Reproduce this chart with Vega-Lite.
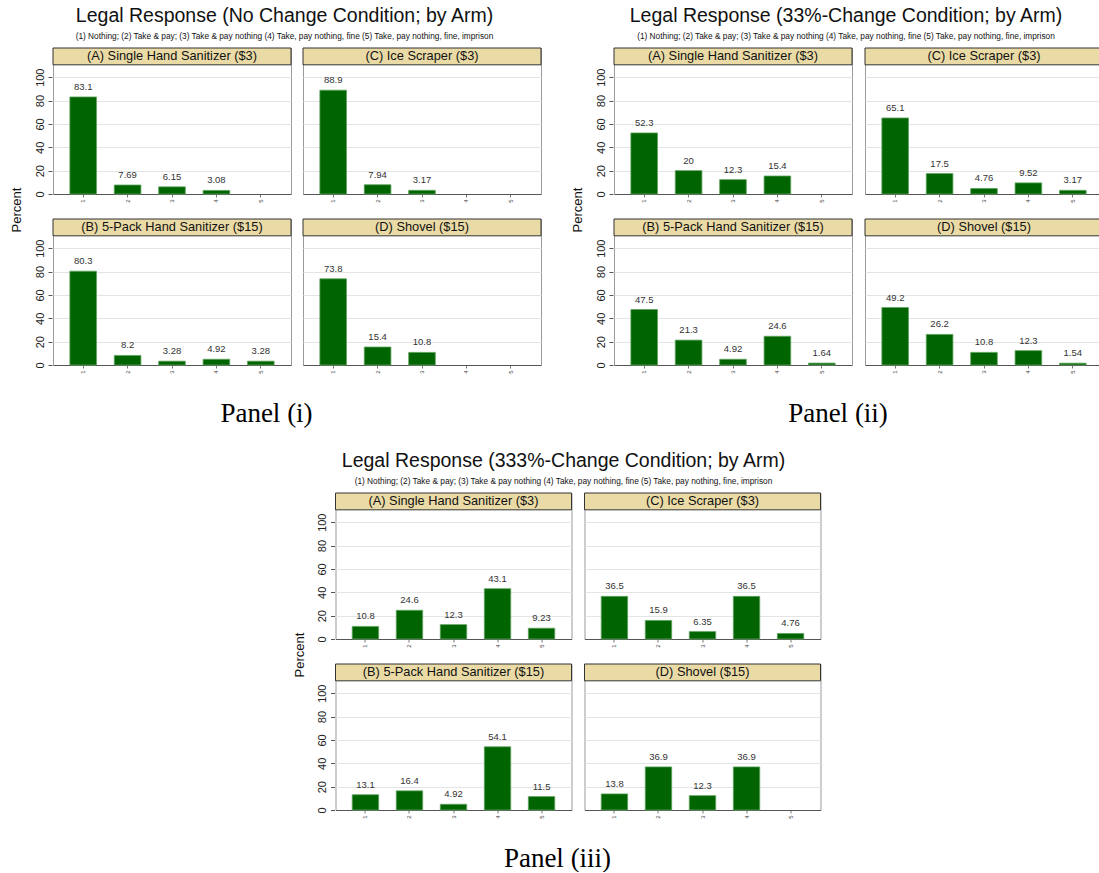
{
  "$schema": "https://vega.github.io/schema/vega-lite/v6.json",
  "padding": {"left": 10, "top": 6, "right": 0, "bottom": 0},
  "background": "white",
  "datasets": {
    "arms": [
      {"a": "A", "arm": "(A) Single Hand Sanitizer ($3)", "rw": "top", "cl": "left"},
      {"a": "C", "arm": "(C) Ice Scraper ($3)", "rw": "top", "cl": "right"},
      {"a": "B", "arm": "(B) 5-Pack Hand Sanitizer ($15)", "rw": "bottom", "cl": "left"},
      {"a": "D", "arm": "(D) Shovel ($15)", "rw": "bottom", "cl": "right"}
    ],
    "d": [
      {"p": "i", "a": "A", "k": "1", "v": 83.1}, {"p": "i", "a": "A", "k": "2", "v": 7.69}, {"p": "i", "a": "A", "k": "3", "v": 6.15}, {"p": "i", "a": "A", "k": "4", "v": 3.08}, {"p": "i", "a": "A", "k": "5", "v": 0},
      {"p": "i", "a": "C", "k": "1", "v": 88.9}, {"p": "i", "a": "C", "k": "2", "v": 7.94}, {"p": "i", "a": "C", "k": "3", "v": 3.17}, {"p": "i", "a": "C", "k": "4", "v": 0}, {"p": "i", "a": "C", "k": "5", "v": 0},
      {"p": "i", "a": "B", "k": "1", "v": 80.3}, {"p": "i", "a": "B", "k": "2", "v": 8.2}, {"p": "i", "a": "B", "k": "3", "v": 3.28}, {"p": "i", "a": "B", "k": "4", "v": 4.92}, {"p": "i", "a": "B", "k": "5", "v": 3.28},
      {"p": "i", "a": "D", "k": "1", "v": 73.8}, {"p": "i", "a": "D", "k": "2", "v": 15.4}, {"p": "i", "a": "D", "k": "3", "v": 10.8}, {"p": "i", "a": "D", "k": "4", "v": 0}, {"p": "i", "a": "D", "k": "5", "v": 0},
      {"p": "ii", "a": "A", "k": "1", "v": 52.3}, {"p": "ii", "a": "A", "k": "2", "v": 20}, {"p": "ii", "a": "A", "k": "3", "v": 12.3}, {"p": "ii", "a": "A", "k": "4", "v": 15.4}, {"p": "ii", "a": "A", "k": "5", "v": 0},
      {"p": "ii", "a": "C", "k": "1", "v": 65.1}, {"p": "ii", "a": "C", "k": "2", "v": 17.5}, {"p": "ii", "a": "C", "k": "3", "v": 4.76}, {"p": "ii", "a": "C", "k": "4", "v": 9.52}, {"p": "ii", "a": "C", "k": "5", "v": 3.17},
      {"p": "ii", "a": "B", "k": "1", "v": 47.5}, {"p": "ii", "a": "B", "k": "2", "v": 21.3}, {"p": "ii", "a": "B", "k": "3", "v": 4.92}, {"p": "ii", "a": "B", "k": "4", "v": 24.6}, {"p": "ii", "a": "B", "k": "5", "v": 1.64},
      {"p": "ii", "a": "D", "k": "1", "v": 49.2}, {"p": "ii", "a": "D", "k": "2", "v": 26.2}, {"p": "ii", "a": "D", "k": "3", "v": 10.8}, {"p": "ii", "a": "D", "k": "4", "v": 12.3}, {"p": "ii", "a": "D", "k": "5", "v": 1.54},
      {"p": "iii", "a": "A", "k": "1", "v": 10.8}, {"p": "iii", "a": "A", "k": "2", "v": 24.6}, {"p": "iii", "a": "A", "k": "3", "v": 12.3}, {"p": "iii", "a": "A", "k": "4", "v": 43.1}, {"p": "iii", "a": "A", "k": "5", "v": 9.23},
      {"p": "iii", "a": "C", "k": "1", "v": 36.5}, {"p": "iii", "a": "C", "k": "2", "v": 15.9}, {"p": "iii", "a": "C", "k": "3", "v": 6.35}, {"p": "iii", "a": "C", "k": "4", "v": 36.5}, {"p": "iii", "a": "C", "k": "5", "v": 4.76},
      {"p": "iii", "a": "B", "k": "1", "v": 13.1}, {"p": "iii", "a": "B", "k": "2", "v": 16.4}, {"p": "iii", "a": "B", "k": "3", "v": 4.92}, {"p": "iii", "a": "B", "k": "4", "v": 54.1}, {"p": "iii", "a": "B", "k": "5", "v": 11.5},
      {"p": "iii", "a": "D", "k": "1", "v": 13.8}, {"p": "iii", "a": "D", "k": "2", "v": 36.9}, {"p": "iii", "a": "D", "k": "3", "v": 12.3}, {"p": "iii", "a": "D", "k": "4", "v": 36.9}, {"p": "iii", "a": "D", "k": "5", "v": 0}
    ]
  },
  "config": {
    "font": "Liberation Sans",
    "view": {"stroke": "#9a9a9a", "strokeWidth": 1},
    "axisY": {"labelOverlap": false, "labelAngle": -90, "labelAlign": "center", "labelBaseline": "bottom", "labelFontSize": 11, "labelColor": "#222", "tickSize": 4, "tickColor": "#555", "labelPadding": 3, "domain": false, "grid": true, "gridColor": "#e4e4e4", "tickCount": 6},
    "axisX": {"labelOverlap": false, "labelAngle": -90, "labelAlign": "right", "labelBaseline": "middle", "labelFontSize": 6, "labelColor": "#444", "tickSize": 3, "tickColor": "#777", "labelPadding": 2, "domainColor": "#555", "grid": false},
    "title": {"fontSize": 19.5, "fontWeight": "normal", "color": "#111", "subtitleFontSize": 8.3, "subtitleColor": "#111", "subtitlePadding": 5, "offset": 6, "anchor": "middle"},
    "header": {"labels": false}
  },
  "center": true,
  "spacing": 24,
  "vconcat": [
    {
      "spacing": 29,
      "hconcat": [
        {
          "title": {"text": "Panel (i)", "orient": "bottom", "font": "Liberation Serif", "fontSize": 27, "fontWeight": "normal", "color": "#000", "offset": 27, "dx": -10},
          "vconcat": [
            {
              "data": {"name": "d"},
              "transform": [
                {"filter": "datum.p == 'i'"},
                {"lookup": "a", "from": {"data": {"name": "arms"}, "key": "a", "fields": ["arm", "rw", "cl"]}}
              ],
              "title": {"text": "Legal Response (No Change Condition; by Arm)", "subtitle": "(1) Nothing; (2) Take & pay; (3) Take & pay nothing (4) Take, pay nothing, fine (5) Take, pay nothing, fine, imprison", "dx": 8},
              "facet": {
                "row": {"field": "rw", "type": "nominal", "sort": ["top", "bottom"], "title": "Percent", "header": {"labels": false, "titleFontSize": 13, "titleFontWeight": "normal", "titleColor": "#111", "titlePadding": 0}},
                "column": {"field": "cl", "type": "nominal", "sort": ["left", "right"], "title": null, "header": {"labels": false}}
              },
              "spacing": {"row": 15, "column": 10},
              "resolve": {"axis": {"x": "independent"}},
              "spec": {
                "width": 238,
                "height": 146,
                "layer": [
                  {
                    "transform": [{"filter": "datum.v > 0"}],
                    "mark": {"type": "bar", "color": "#006400", "stroke": "#5fa35f", "strokeWidth": 0.8},
                    "encoding": {
                      "x": {"field": "k", "type": "ordinal", "title": null, "scale": {"domain": ["1", "2", "3", "4", "5"], "paddingInner": 0.4, "paddingOuter": 0.38}},
                      "y": {"field": "v", "type": "quantitative", "title": null, "scale": {"domain": [0, 125], "nice": false}, "axis": {"values": [0, 20, 40, 60, 80, 100]}}
                    }
                  },
                  {
                    "transform": [{"filter": "datum.v > 0"}],
                    "mark": {"type": "text", "baseline": "bottom", "dy": -5, "fontSize": 9.5, "color": "#333"},
                    "encoding": {
                      "x": {"field": "k", "type": "ordinal", "title": null},
                      "y": {"field": "v", "type": "quantitative", "title": null, "axis": {"values": [0, 20, 40, 60, 80, 100]}},
                      "text": {"field": "v", "type": "quantitative"}
                    }
                  },
                  {
                    "transform": [{"filter": "datum.k == '1'"}],
                    "mark": {"type": "rect", "fill": "#eadba6", "stroke": "#333", "strokeWidth": 1},
                    "encoding": {
                      "y": {"datum": 110.6, "type": "quantitative", "title": null, "axis": {"values": [0, 20, 40, 60, 80, 100]}},
                      "y2": {"datum": 125}
                    }
                  },
                  {
                    "transform": [{"filter": "datum.k == '1'"}],
                    "mark": {"type": "text", "fontSize": 12.8, "color": "#111", "baseline": "middle", "align": "center"},
                    "encoding": {
                      "x": {"datum": "3", "type": "ordinal", "title": null},
                      "y": {"datum": 117.8, "type": "quantitative", "title": null, "axis": {"values": [0, 20, 40, 60, 80, 100]}},
                      "text": {"field": "arm", "type": "nominal"}
                    }
                  }
                ]
              }
            }
          ]
        },
        {
          "title": {"text": "Panel (ii)", "orient": "bottom", "font": "Liberation Serif", "fontSize": 27, "fontWeight": "normal", "color": "#000", "offset": 27, "dx": 0},
          "vconcat": [
            {
              "data": {"name": "d"},
              "transform": [
                {"filter": "datum.p == 'ii'"},
                {"lookup": "a", "from": {"data": {"name": "arms"}, "key": "a", "fields": ["arm", "rw", "cl"]}}
              ],
              "title": {"text": "Legal Response (33%-Change Condition; by Arm)", "subtitle": "(1) Nothing; (2) Take & pay; (3) Take & pay nothing (4) Take, pay nothing, fine (5) Take, pay nothing, fine, imprison", "dx": 8},
              "facet": {
                "row": {"field": "rw", "type": "nominal", "sort": ["top", "bottom"], "title": "Percent", "header": {"labels": false, "titleFontSize": 13, "titleFontWeight": "normal", "titleColor": "#111", "titlePadding": 0}},
                "column": {"field": "cl", "type": "nominal", "sort": ["left", "right"], "title": null, "header": {"labels": false}}
              },
              "spacing": {"row": 15, "column": 11},
              "resolve": {"axis": {"x": "independent"}},
              "spec": {
                "width": 238,
                "height": 146,
                "layer": [
                  {
                    "transform": [{"filter": "datum.v > 0"}],
                    "mark": {"type": "bar", "color": "#006400", "stroke": "#5fa35f", "strokeWidth": 0.8},
                    "encoding": {
                      "x": {"field": "k", "type": "ordinal", "title": null, "scale": {"domain": ["1", "2", "3", "4", "5"], "paddingInner": 0.4, "paddingOuter": 0.38}},
                      "y": {"field": "v", "type": "quantitative", "title": null, "scale": {"domain": [0, 125], "nice": false}, "axis": {"values": [0, 20, 40, 60, 80, 100]}}
                    }
                  },
                  {
                    "transform": [{"filter": "datum.v > 0"}],
                    "mark": {"type": "text", "baseline": "bottom", "dy": -5, "fontSize": 9.5, "color": "#333"},
                    "encoding": {
                      "x": {"field": "k", "type": "ordinal", "title": null},
                      "y": {"field": "v", "type": "quantitative", "title": null, "axis": {"values": [0, 20, 40, 60, 80, 100]}},
                      "text": {"field": "v", "type": "quantitative"}
                    }
                  },
                  {
                    "transform": [{"filter": "datum.k == '1'"}],
                    "mark": {"type": "rect", "fill": "#eadba6", "stroke": "#333", "strokeWidth": 1},
                    "encoding": {
                      "y": {"datum": 110.6, "type": "quantitative", "title": null, "axis": {"values": [0, 20, 40, 60, 80, 100]}},
                      "y2": {"datum": 125}
                    }
                  },
                  {
                    "transform": [{"filter": "datum.k == '1'"}],
                    "mark": {"type": "text", "fontSize": 12.8, "color": "#111", "baseline": "middle", "align": "center"},
                    "encoding": {
                      "x": {"datum": "3", "type": "ordinal", "title": null},
                      "y": {"datum": 117.8, "type": "quantitative", "title": null, "axis": {"values": [0, 20, 40, 60, 80, 100]}},
                      "text": {"field": "arm", "type": "nominal"}
                    }
                  }
                ]
              }
            }
          ]
        }
      ]
    },
    {
      "title": {"text": "Panel (iii)", "orient": "bottom", "font": "Liberation Serif", "fontSize": 27, "fontWeight": "normal", "color": "#000", "offset": 27, "dx": 0},
      "vconcat": [
        {
          "data": {"name": "d"},
          "transform": [
            {"filter": "datum.p == 'iii'"},
            {"lookup": "a", "from": {"data": {"name": "arms"}, "key": "a", "fields": ["arm", "rw", "cl"]}}
          ],
          "title": {"text": "Legal Response (333%-Change Condition; by Arm)", "subtitle": "(1) Nothing; (2) Take & pay; (3) Take & pay nothing (4) Take, pay nothing, fine (5) Take, pay nothing, fine, imprison", "dx": 6},
          "facet": {
            "row": {"field": "rw", "type": "nominal", "sort": ["top", "bottom"], "title": "Percent", "header": {"labels": false, "titleFontSize": 13, "titleFontWeight": "normal", "titleColor": "#111", "titlePadding": 0}},
            "column": {"field": "cl", "type": "nominal", "sort": ["left", "right"], "title": null, "header": {"labels": false}}
          },
          "spacing": {"row": 15, "column": 11},
          "resolve": {"axis": {"x": "independent"}},
          "spec": {
            "width": 236,
            "height": 146,
            "layer": [
              {
                "transform": [{"filter": "datum.v > 0"}],
                "mark": {"type": "bar", "color": "#006400", "stroke": "#5fa35f", "strokeWidth": 0.8},
                "encoding": {
                  "x": {"field": "k", "type": "ordinal", "title": null, "scale": {"domain": ["1", "2", "3", "4", "5"], "paddingInner": 0.4, "paddingOuter": 0.38}},
                  "y": {"field": "v", "type": "quantitative", "title": null, "scale": {"domain": [0, 125], "nice": false}, "axis": {"values": [0, 20, 40, 60, 80, 100]}}
                }
              },
              {
                "transform": [{"filter": "datum.v > 0"}],
                "mark": {"type": "text", "baseline": "bottom", "dy": -5, "fontSize": 9.5, "color": "#333"},
                "encoding": {
                  "x": {"field": "k", "type": "ordinal", "title": null},
                  "y": {"field": "v", "type": "quantitative", "title": null, "axis": {"values": [0, 20, 40, 60, 80, 100]}},
                  "text": {"field": "v", "type": "quantitative"}
                }
              },
              {
                "transform": [{"filter": "datum.k == '1'"}],
                "mark": {"type": "rect", "fill": "#eadba6", "stroke": "#333", "strokeWidth": 1},
                "encoding": {
                  "y": {"datum": 110.6, "type": "quantitative", "title": null, "axis": {"values": [0, 20, 40, 60, 80, 100]}},
                  "y2": {"datum": 125}
                }
              },
              {
                "transform": [{"filter": "datum.k == '1'"}],
                "mark": {"type": "text", "fontSize": 12.8, "color": "#111", "baseline": "middle", "align": "center"},
                "encoding": {
                  "x": {"datum": "3", "type": "ordinal", "title": null},
                  "y": {"datum": 117.8, "type": "quantitative", "title": null, "axis": {"values": [0, 20, 40, 60, 80, 100]}},
                  "text": {"field": "arm", "type": "nominal"}
                }
              }
            ]
          }
        }
      ]
    }
  ]
}
